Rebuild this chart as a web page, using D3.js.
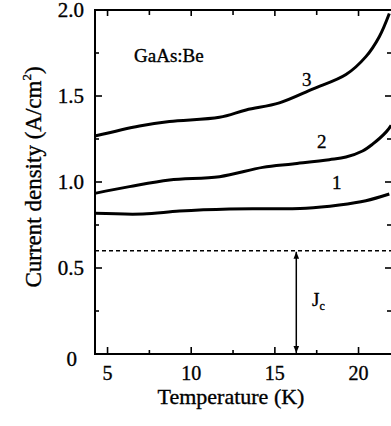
<!DOCTYPE html>
<html>
<head>
<meta charset="utf-8">
<script src="https://cdn.jsdelivr.net/npm/d3@7"></script>
<style>
  body { margin: 0; background: #fff; }
  svg { display: block; }
  svg text { font-family: "Liberation Serif", "Times New Roman", serif; stroke: #000; stroke-width: 0.35px; }
</style>
</head>
<body>
<div id="chart"></div>
<script>
// Data
var temps1 = [4.24, 7.11, 9.30, 12.28, 16.86, 18.85, 20.44, 21.84];
var curve1 = [0.818, 0.814, 0.831, 0.843, 0.847, 0.866, 0.891, 0.930];

var temps2 = [4.24, 6.31, 8.70, 11.69, 14.27, 16.07, 18.25, 19.25, 20.24, 20.84, 21.64, 21.95];
var curve2 = [0.934, 0.973, 1.012, 1.031, 1.085, 1.105, 1.130, 1.145, 1.180, 1.220, 1.290, 1.33];

var temps3 = [4.24, 6.91, 8.70, 11.69, 13.28, 15.27, 17.25, 19.25, 20.44, 21.24, 21.84];
var curve3 = [1.267, 1.326, 1.352, 1.376, 1.419, 1.460, 1.540, 1.625, 1.729, 1.845, 1.98];

var xTicks = [5, 10, 15, 20];
var xMinorTicks = [7.5, 12.5, 17.5];
var yTicks = [0, 0.5, 1.0, 1.5, 2.0];
var yTickLabels = ["0", "0.5", "1.0", "1.5", "2.0"];
var yMinorTicks = [0.25, 0.75, 1.25, 1.75];

var jc = 0.6;
var jcArrowT = 16.28;

var curveLabels = ["1", "2", "3"];
var curveLabelT = [18.7, 17.8, 16.9];
var curveLabelV = [0.96, 1.20, 1.56];

(function() {
  var serif = "Liberation Serif";

  // Dimensions
  var width = 391;
  var height = 426;
  var plotLeft = 95, plotRight = 392, plotTop = 10, plotBottom = 354;

  var svg = d3.select("#chart").append("svg")
    .attr("width", width)
    .attr("height", height);

  var x = d3.scaleLinear().domain([4.25, 22]).range([plotLeft, plotRight]);
  var y = d3.scaleLinear().domain([0, 2]).range([plotBottom, plotTop]);

  // frame
  svg.append("rect")
    .attr("x", plotLeft).attr("y", plotTop)
    .attr("width", plotRight - plotLeft).attr("height", plotBottom - plotTop)
    .attr("fill", "none").attr("stroke", "#000").attr("stroke-width", 2);

  // ticks (inward, all four sides)
  var tickG = svg.append("g").attr("stroke", "#000").attr("stroke-width", 1.6);
  xTicks.forEach(function(t) {
    tickG.append("line").attr("x1", x(t)).attr("x2", x(t)).attr("y1", plotBottom).attr("y2", plotBottom - 7);
    tickG.append("line").attr("x1", x(t)).attr("x2", x(t)).attr("y1", plotTop).attr("y2", plotTop + 6);
  });
  xMinorTicks.forEach(function(t) {
    tickG.append("line").attr("x1", x(t)).attr("x2", x(t)).attr("y1", plotBottom).attr("y2", plotBottom - 4);
    tickG.append("line").attr("x1", x(t)).attr("x2", x(t)).attr("y1", plotTop).attr("y2", plotTop + 5);
  });
  yTicks.forEach(function(v) {
    tickG.append("line").attr("x1", plotLeft).attr("x2", plotLeft + 7).attr("y1", y(v)).attr("y2", y(v));
    tickG.append("line").attr("x1", plotRight).attr("x2", plotRight - 7).attr("y1", y(v)).attr("y2", y(v));
  });
  yMinorTicks.forEach(function(v) {
    tickG.append("line").attr("x1", plotLeft).attr("x2", plotLeft + 4).attr("y1", y(v)).attr("y2", y(v));
    tickG.append("line").attr("x1", plotRight).attr("x2", plotRight - 5).attr("y1", y(v)).attr("y2", y(v));
  });

  // tick labels
  svg.selectAll(".xlab").data(xTicks).enter().append("text")
    .attr("class", "xlab")
    .attr("font-family", serif)
    .attr("x", function(d) { return x(d); })
    .attr("y", 380)
    .attr("text-anchor", "middle")
    .attr("font-size", 20)
    .text(function(d) { return d; });

  svg.selectAll(".ylab").data(yTicks).enter().append("text")
    .attr("class", "ylab")
    .attr("font-family", serif)
    .attr("x", function(d) { return d === 0 ? 77 : 84; })
    .attr("y", function(d) { return y(d) + 7 + (d === 0 ? 5 : 0); })
    .attr("text-anchor", "end")
    .attr("font-size", 21)
    .text(function(d, i) { return yTickLabels[i]; });

  // axis titles
  svg.append("text")
    .attr("font-family", serif)
    .attr("x", 231).attr("y", 404)
    .attr("text-anchor", "middle")
    .attr("font-size", 22)
    .text("Temperature (K)");

  var yt = svg.append("text")
    .attr("font-family", serif)
    .attr("transform", "translate(41,177) rotate(-90)")
    .attr("text-anchor", "middle")
    .attr("font-size", 23);
  yt.append("tspan").text("Current density (A/cm");
  yt.append("tspan").attr("font-size", 13).attr("dy", -10).text("2");
  yt.append("tspan").attr("dy", 10).text(")");

  // sample label
  svg.append("text")
    .attr("font-family", serif)
    .attr("x", 134).attr("y", 62)
    .attr("font-size", 19)
    .text("GaAs:Be");

  // curves
  var line = d3.line()
    .x(function(d) { return x(d[0]); })
    .y(function(d) { return y(d[1]); })
    .curve(d3.curveCatmullRom.alpha(0.5));

  [[temps1, curve1], [temps2, curve2], [temps3, curve3]].forEach(function(s) {
    svg.append("path")
      .datum(d3.zip(s[0], s[1]))
      .attr("d", line)
      .attr("fill", "none")
      .attr("stroke", "#000")
      .attr("stroke-width", 3)
      .attr("stroke-linejoin", "round");
  });

  svg.selectAll(".clab").data(curveLabels).enter().append("text")
    .attr("class", "clab")
    .attr("font-family", serif)
    .attr("x", function(d, i) { return x(curveLabelT[i]); })
    .attr("y", function(d, i) { return y(curveLabelV[i]); })
    .attr("text-anchor", "middle")
    .attr("font-size", 19)
    .text(function(d) { return d; });

  // critical current line
  svg.append("line")
    .attr("x1", plotLeft).attr("x2", plotRight)
    .attr("y1", y(jc)).attr("y2", y(jc))
    .attr("stroke", "#000").attr("stroke-width", 1.5)
    .attr("stroke-dasharray", "4,3");

  var defs = svg.append("defs");
  defs.append("marker")
    .attr("id", "head")
    .attr("viewBox", "0 0 10 10")
    .attr("refX", 10).attr("refY", 5)
    .attr("markerWidth", 7).attr("markerHeight", 7)
    .attr("markerUnits", "userSpaceOnUse")
    .attr("orient", "auto-start-reverse")
    .append("path").attr("d", "M0,1 L10,5 L0,9 Z").attr("fill", "#000");

  svg.append("line")
    .attr("x1", x(jcArrowT)).attr("x2", x(jcArrowT))
    .attr("y1", y(jc) + 1).attr("y2", y(0) - 1)
    .attr("stroke", "#000").attr("stroke-width", 1.5)
    .attr("marker-start", "url(#head)")
    .attr("marker-end", "url(#head)");

  var jl = svg.append("text")
    .attr("font-family", serif)
    .attr("x", 312).attr("y", 306)
    .attr("font-size", 19);
  jl.append("tspan").text("J");
  jl.append("tspan").attr("font-size", 12).attr("dy", 4).text("c");
})();
</script>
</body>
</html>
